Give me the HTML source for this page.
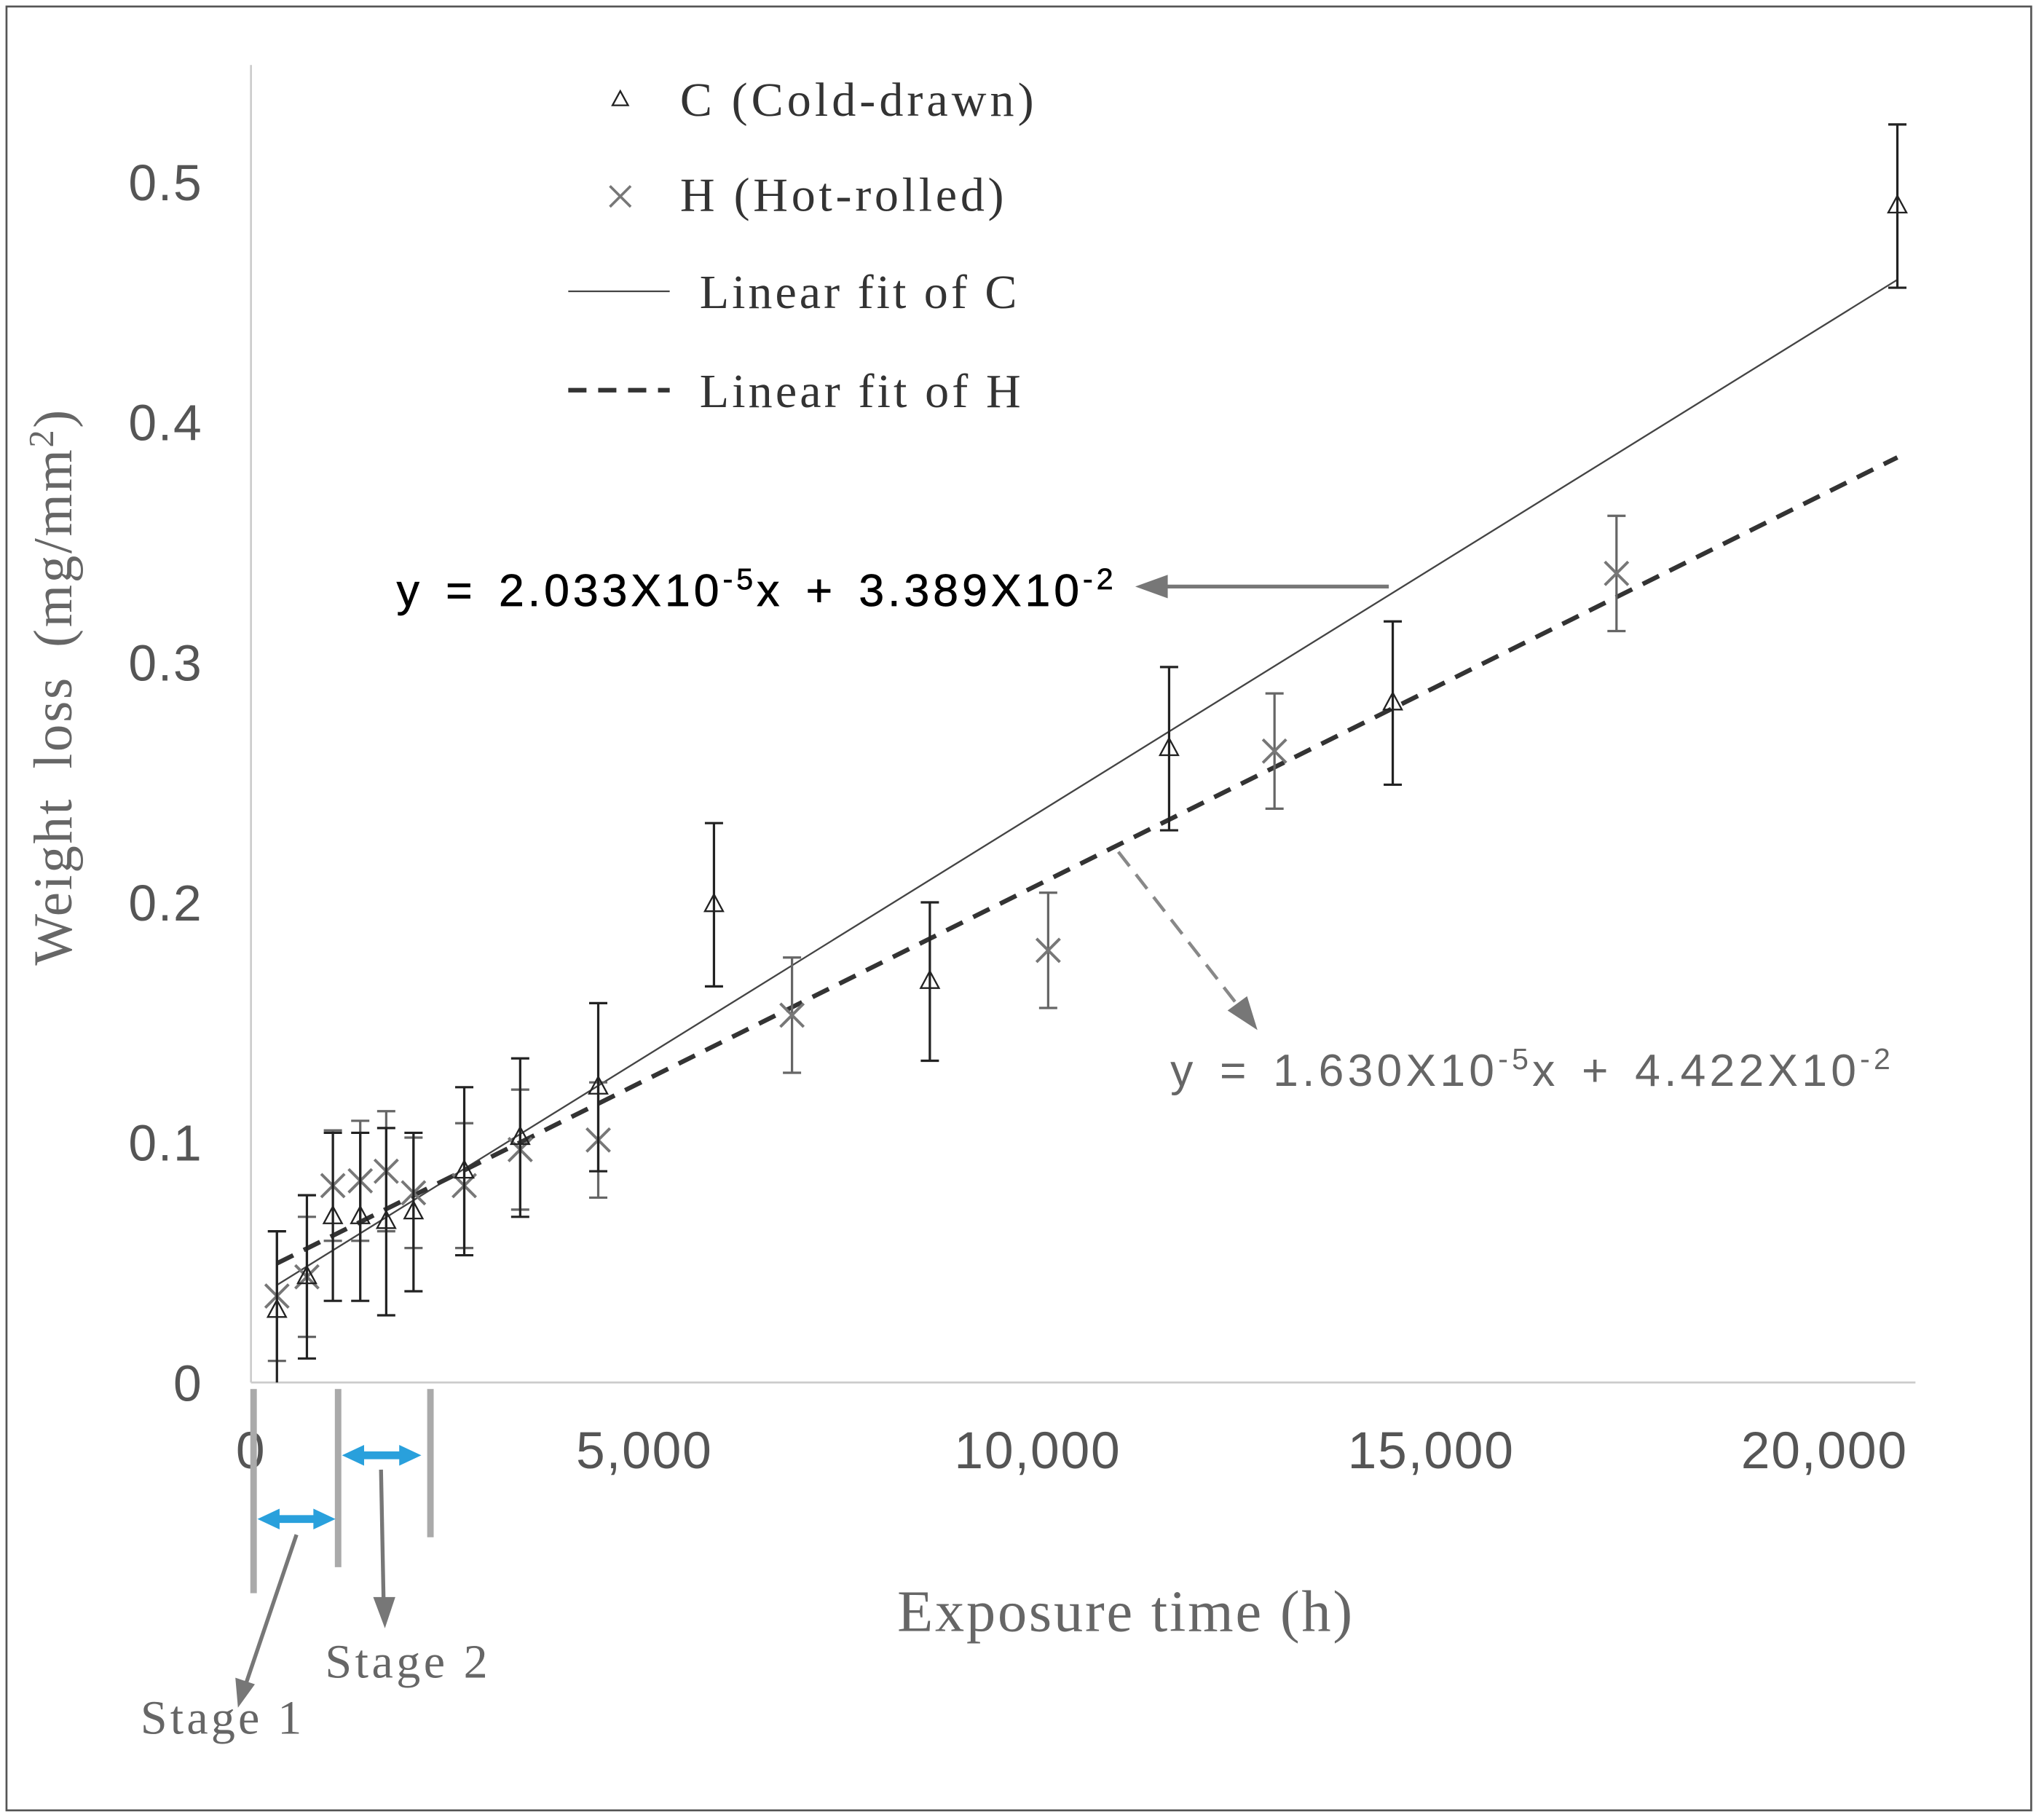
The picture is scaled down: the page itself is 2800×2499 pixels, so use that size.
<!DOCTYPE html>
<html><head><meta charset="utf-8"><style>
html,body{margin:0;padding:0;background:#fff;}
svg{display:block;}
.serif{font-family:"Liberation Serif",serif;}
.sans{font-family:"Liberation Sans",sans-serif;}
</style></head><body>
<svg id="chart" width="2800" height="2499" viewBox="0 0 1568 1399.4" preserveAspectRatio="none" xmlns="http://www.w3.org/2000/svg">
<rect x="5" y="5" width="1557" height="1387" fill="#fff" stroke="#555" stroke-width="1.5"/>
<g id="axes"></g>
<g id="marks"></g>
<g id="legend">
  <path d="M477,70 L471,81 L483,81 Z" fill="none" stroke="#222" stroke-width="1.3"/>
  <text class="serif" x="523" y="89" font-size="37" fill="#333" textLength="272" lengthAdjust="spacing">C (Cold-drawn)</text>
  <path d="M469,143 L485,159 M485,143 L469,159" stroke="#777" stroke-width="2"/>
  <text class="serif" x="523" y="162" font-size="37" fill="#333" textLength="249" lengthAdjust="spacing">H (Hot-rolled)</text>
  <line x1="437" y1="224" x2="515" y2="224" stroke="#444" stroke-width="1.3"/>
  <text class="serif" x="538" y="237" font-size="37" fill="#333" textLength="244" lengthAdjust="spacing">Linear fit of C</text>
  <line x1="437" y1="300" x2="515" y2="300" stroke="#333" stroke-width="3.5" stroke-dasharray="14,9"/>
  <text class="serif" x="538" y="313" font-size="37" fill="#333" textLength="247" lengthAdjust="spacing">Linear fit of H</text>
</g>
<text class="sans" x="305" y="466" font-size="35" fill="#000" stroke="#000" stroke-width="0.4" word-spacing="5" letter-spacing="2.8">y = 2.033X10<tspan dy="-13" font-size="23">-5</tspan><tspan dy="13">x  + 3.389X10</tspan><tspan dy="-13" font-size="23">-2</tspan></text>
<line x1="1068" y1="451" x2="895" y2="451" stroke="#777" stroke-width="3"/>
<path d="M873,451 L898,442 L898,460 Z" fill="#777"/>
<text class="sans" x="900" y="835" font-size="35" fill="#666" word-spacing="5" letter-spacing="2.9">y = 1.630X10<tspan dy="-13" font-size="23">-5</tspan><tspan dy="13">x  + 4.422X10</tspan><tspan dy="-13" font-size="23">-2</tspan></text>
<line x1="860" y1="655" x2="955" y2="777" stroke="#888" stroke-width="2.5" stroke-dasharray="14,8"/>
<path d="M967,792 L944,777 L959,766 Z" fill="#777"/>
<text class="serif" transform="translate(55,528) rotate(-90)" text-anchor="middle" font-size="42" fill="#666" word-spacing="10" letter-spacing="1.5">Weight loss (mg/mm<tspan dy="-14" font-size="27">2</tspan><tspan dy="14">)</tspan></text>
<text class="serif" x="690" y="1254" font-size="45" fill="#666" textLength="350" lengthAdjust="spacing">Exposure time (h)</text>
<g>
  <rect x="192.5" y="1068" width="5" height="157" fill="#aaa"/>
  <rect x="257.5" y="1068" width="5" height="137" fill="#aaa"/>
  <rect x="328.5" y="1068" width="5" height="114" fill="#aaa"/>
  <path d="M198,1168 L215,1160 L215,1165 L241,1165 L241,1160 L258,1168 L241,1176 L241,1171 L215,1171 L215,1176 Z" fill="#29a0dc"/>
  <path d="M263,1119 L280,1111 L280,1116 L307,1116 L307,1111 L324,1119 L307,1127 L307,1122 L280,1122 L280,1127 Z" fill="#29a0dc"/>
  <line x1="228" y1="1180" x2="189" y2="1295" stroke="#777" stroke-width="3"/>
  <path d="M183,1313 L181,1290 L196,1295 Z" fill="#777"/>
  <line x1="293" y1="1130" x2="295" y2="1232" stroke="#777" stroke-width="3"/>
  <path d="M296,1252 L287,1228 L304,1228 Z" fill="#777"/>
  <text class="serif" x="108" y="1333" font-size="37" fill="#666" textLength="124" lengthAdjust="spacing">Stage 1</text>
  <text class="serif" x="250" y="1290" font-size="37" fill="#666" textLength="125" lengthAdjust="spacing">Stage 2</text>
</g>
</svg>
<script>
const xTicks = [0, 5000, 10000, 15000, 20000];
const xTickLabels = ["0", "5,000", "10,000", "15,000", "20,000"];
const yTicks = [0, 0.1, 0.2, 0.3, 0.4, 0.5];
const yTickLabels = ["0", "0.1", "0.2", "0.3", "0.4", "0.5"];
const cTimes = [330, 711, 1041, 1389, 1719, 2066, 2711, 3422, 4414, 5885, 8629, 11670, 14513, 20927];
const cValues = [0.030, 0.044, 0.069, 0.069, 0.067, 0.071, 0.088, 0.102, 0.123, 0.199, 0.167, 0.264, 0.283, 0.490];
const cErrors = [0.033, 0.034, 0.035, 0.035, 0.039, 0.033, 0.035, 0.033, 0.035, 0.034, 0.033, 0.034, 0.034, 0.034];
const hTimes = [330, 711, 1041, 1389, 1719, 2066, 2711, 3422, 4414, 6877, 10133, 13010, 17357];
const hValues = [0.036, 0.044, 0.082, 0.084, 0.088, 0.079, 0.082, 0.097, 0.101, 0.153, 0.180, 0.263, 0.337];
const hErrors = [0.027, 0.025, 0.023, 0.025, 0.025, 0.023, 0.026, 0.025, 0.024, 0.024, 0.024, 0.024, 0.024];
const fitC = [2.033e-5, 3.389e-2];
const fitH = [1.630e-5, 4.422e-2];
const fitRange = [330, 20927];

const NS = "http://www.w3.org/2000/svg";
const X0 = 193, X1 = 1403, Y0 = 1063, Y1 = 140;
function sx(v){ return X0 + v / 20000 * (X1 - X0); }
function sy(v){ return Y0 - v / 0.5 * (Y0 - Y1); }
function mk(tag, attrs, parent){ const e = document.createElementNS(NS, tag); for (const k in attrs) e.setAttribute(k, attrs[k]); parent.appendChild(e); return e; }

const axes = document.getElementById('axes');
const marks = document.getElementById('marks');
const ya = mk('line', {x1: X0, y1: 50, x2: X0, y2: Y0, stroke: '#ccc', 'stroke-width': 1.5}, axes);


const xa = mk('line', {x1: X0, y1: Y0, x2: 1473, y2: Y0, stroke: '#ccc', 'stroke-width': 1.5}, axes);


xTicks.forEach((t, i) => {
  const tx = mk('text', {x: sx(t), y: 1129, 'text-anchor': 'middle', 'font-size': 40, fill: '#555', 'font-family': 'Liberation Sans, sans-serif', 'letter-spacing': 1}, axes);
  tx.textContent = xTickLabels[i];
  
  
});
yTicks.forEach((t, i) => {
  const tx = mk('text', {x: 156, y: sy(t) + 14, 'text-anchor': 'end', 'font-size': 39, fill: '#555', 'font-family': 'Liberation Sans, sans-serif', 'letter-spacing': 1}, axes);
  tx.textContent = yTickLabels[i];
  
  
});

const lc = mk('line', {x1: sx(fitRange[0]), y1: sy(fitC[0]*fitRange[0]+fitC[1]), x2: sx(fitRange[1]), y2: sy(fitC[0]*fitRange[1]+fitC[1]), stroke: '#444', 'stroke-width': 1.3}, marks);


const lh = mk('line', {x1: sx(fitRange[0]), y1: sy(fitH[0]*fitRange[0]+fitH[1]), x2: sx(fitRange[1]), y2: sy(fitH[0]*fitRange[1]+fitH[1]), stroke: '#333', 'stroke-width': 3.5, 'stroke-dasharray': '14,9'}, marks);



function errbar(x, v, e, color, name){
  const g = mk('g', {}, marks);
  
  
  const px = sx(x), top = sy(v + e), bot = sy(Math.max(0, v - e));
  mk('line', {x1: px, y1: top, x2: px, y2: bot, stroke: color, 'stroke-width': 1.8}, g);
  mk('line', {x1: px-7, y1: top, x2: px+7, y2: top, stroke: color, 'stroke-width': 1.8}, g);
  if (v - e > 0) mk('line', {x1: px-7, y1: bot, x2: px+7, y2: bot, stroke: color, 'stroke-width': 1.8}, g);
}
hTimes.forEach((t, i) => {
  errbar(t, hValues[i], hErrors[i], '#666', 'error-bar-h');
  const px = sx(t), py = sy(hValues[i]);
  const p = mk('path', {d: `M${px-9},${py-9} L${px+9},${py+9} M${px+9},${py-9} L${px-9},${py+9}`, stroke: '#777', 'stroke-width': 2.2, fill: 'none'}, marks);
  
  
});
cTimes.forEach((t, i) => {
  errbar(t, cValues[i], cErrors[i], '#222', 'error-bar-c');
  const px = sx(t), py = sy(cValues[i]);
  const p = mk('path', {d: `M${px},${py-8} L${px-7},${py+5} L${px+7},${py+5} Z`, stroke: '#222', 'stroke-width': 1.3, fill: 'none'}, marks);
  
  
});
</script>
</body></html>
